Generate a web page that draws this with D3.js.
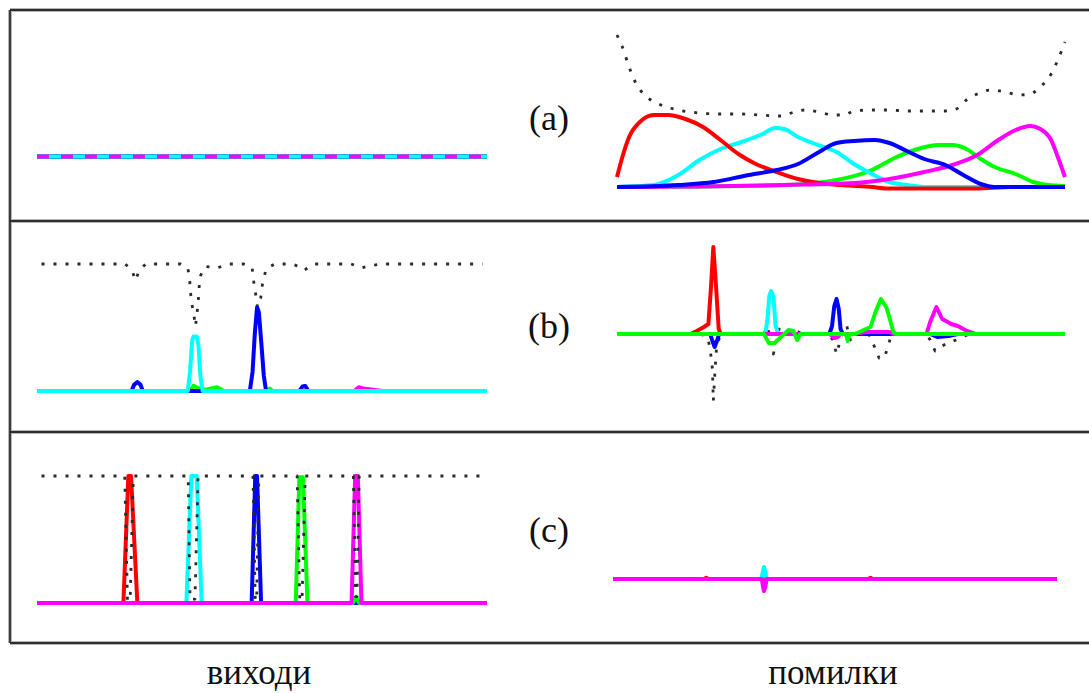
<!DOCTYPE html>
<html>
<head>
<meta charset="utf-8">
<script src="https://cdn.jsdelivr.net/npm/d3@7"></script>
<style>
  html, body { margin: 0; padding: 0; background: #fff; }
  svg { display: block; }
</style>
</head>
<body>
<svg id="chart" width="1089" height="693"></svg>
<script>
// ---------------------------------------------------------------
// Series are given as [sample position (0..100), value] pairs.
// Left column: network outputs (0..1). Right column: errors.
// ---------------------------------------------------------------

// (a) outputs – all units respond equally
const outA_red     = [[0, 0.2], [100, 0.2]];
const outA_green   = [[0, 0.2], [100, 0.2]];
const outA_blue    = [[0, 0.2], [100, 0.2]];
const outA_cyan    = [[0, 0.2], [100, 0.2]];
const outA_magenta = [[0, 0.2], [100, 0.2]];

// (a) errors
const errA_total = [[0,1.52],[1.2,1.40],[2.7,1.20],[4.3,1.03],[6.7,0.90],[9.8,0.82],[13.7,0.77],[18.4,0.74],[23.1,0.73],[27.8,0.73],[31.8,0.72],[36.5,0.71],[39.6,0.75],[42,0.77],[45.1,0.75],[48.2,0.72],[50.6,0.72],[52.9,0.76],[56.9,0.77],[60.8,0.77],[64.7,0.76],[68.6,0.76],[73.3,0.76],[75.7,0.78],[78,0.87],[80.4,0.93],[83.5,0.97],[86.7,0.95],[89.8,0.92],[92.2,0.93],[94.5,1.00],[96.9,1.13],[98.4,1.27],[100,1.45]];
const errA_red     = [[0,0.10],[1.2,0.30],[2.7,0.50],[5.1,0.65],[8.2,0.72],[11.4,0.72],[15.3,0.68],[19.2,0.60],[23.1,0.47],[27.1,0.33],[31,0.23],[35.7,0.15],[40.4,0.08],[45.1,0.04],[49.8,0.02],[56.9,0],[60.8,-0.015],[80,-0.015],[88,0],[100,0]];
const errA_cyan    = [[0,0],[8.2,0.02],[13.7,0.12],[18.4,0.27],[23.1,0.38],[27.8,0.45],[32.5,0.53],[35.3,0.59],[37.3,0.58],[40.4,0.50],[44.3,0.43],[49,0.35],[52.9,0.23],[56.9,0.13],[60.8,0.05],[64.7,0.02],[68.6,0],[100,0]];
const errA_blue    = [[0,0],[13.7,0.02],[21.6,0.05],[29.4,0.12],[35.7,0.17],[40.4,0.23],[45.1,0.35],[49,0.44],[52.9,0.46],[57.6,0.47],[60.8,0.44],[64.7,0.36],[68.6,0.28],[73.3,0.22],[77.3,0.12],[81.2,0.03],[84.3,0],[100,0]];
const errA_green   = [[0,0],[37.3,0.02],[49,0.07],[56.9,0.17],[62.4,0.30],[67.1,0.38],[71.8,0.42],[74.9,0.42],[78,0.38],[81.2,0.28],[84.3,0.20],[89,0.13],[92.9,0.05],[96.1,0.02],[100,0.01]];
const errA_magenta = [[0,0],[37.3,0.02],[52.9,0.04],[60.8,0.08],[68.6,0.15],[74.9,0.22],[80.4,0.32],[85.1,0.47],[89,0.57],[92.2,0.61],[94.5,0.58],[96.9,0.47],[98.4,0.30],[100,0.10]];

// (b) outputs
const outB_total   = [[1,1],[19.6,1],[21.1,0.95],[21.9,0.87],[22.7,0.95],[24.2,1],[31.9,1],[33.5,0.97],[33.9,0.89],[34.1,0.78],[34.4,0.69],[34.9,0.59],[35.2,0.51],[35.4,0.56],[35.8,0.69],[36.0,0.80],[36.2,0.90],[37.4,0.98],[40.1,0.97],[42.8,1],[45.9,1],[47.8,0.97],[48.2,0.85],[48.6,0.76],[49,0.66],[49.7,0.73],[50.1,0.84],[50.9,0.96],[52.8,1],[56.7,1],[58.2,0.98],[59.4,0.95],[60.6,0.98],[61.7,1],[69.8,1],[72.2,0.97],[74.5,0.99],[76.8,1],[99,1]];
const outB_red     = [[0,0],[100,0]];
const outB_magenta = [[0,0],[70.5,0],[71.5,0.03],[72.5,0.02],[76.8,0],[100,0]];
const outB_green   = [[0,0],[34,0],[34.8,0.04],[36,0.02],[37.5,0.01],[40,0.03],[41.5,0],[51,0],[51.7,0.02],[52.4,0],[100,0]];
const outB_blue    = [[0,0],[21,0],[21.6,0.05],[22.3,0.07],[23,0.05],[23.5,0],[47.3,0],[47.9,0.15],[48.4,0.45],[48.9,0.66],[49.3,0.62],[49.8,0.40],[50.4,0.12],[50.9,0],[58.3,0],[59,0.035],[59.6,0.04],[60.3,0],[100,0]];
const outB_cyan    = [[0,0],[33.5,0],[34.0,0.15],[34.5,0.40],[34.8,0.43],[35.5,0.43],[35.9,0.35],[36.3,0.12],[36.8,0],[100,0]];

// (b) errors
const errB_total   = [[0,0],[18.6,0],[20.2,-0.03],[20.8,-0.15],[21.3,-0.35],[21.5,-0.67],[21.9,-0.35],[22.2,-0.15],[22.9,-0.03],[24.1,0],[32.7,0],[33.3,0.07],[33.9,0.02],[34.4,-0.12],[34.9,-0.20],[35.4,-0.10],[36.2,0.05],[37.4,0],[38.6,0.04],[40.1,0.03],[41.3,0],[47.2,0],[48.2,-0.06],[49.0,-0.20],[49.8,-0.07],[50.7,0.05],[51.3,0.08],[51.7,0],[52.1,-0.06],[52.7,0],[56.2,0],[57.4,-0.12],[58.5,-0.24],[59.7,-0.24],[60.5,-0.12],[61.3,0],[69.1,0],[69.9,-0.06],[71.0,-0.17],[72.2,-0.13],[73.8,-0.09],[75.7,-0.06],[77.6,-0.02],[78.8,0],[100,0]];
const errB_red     = [[0,0],[16.4,0],[17.8,0.03],[19.4,0.07],[20.4,0.10],[21.0,0.48],[21.5,0.87],[22.1,0.48],[22.7,0.05],[23.2,0],[100,0]];
const errB_cyan    = [[0,0],[33.1,0],[33.6,0.15],[34.0,0.38],[34.4,0.43],[34.9,0.38],[35.4,0.08],[36.0,0],[100,0]];
const errB_blue    = [[0,0],[20.8,0],[21.3,-0.07],[21.8,-0.13],[22.3,-0.07],[22.8,0],[47.4,0],[48.0,0.08],[48.5,0.28],[49.0,0.35],[49.5,0.25],[49.9,0.05],[50.4,0],[69.9,0],[71.5,-0.03],[74,-0.02],[76.1,0],[100,0]];
const errB_magenta = [[0,0],[47.5,0],[48.5,-0.04],[49.3,-0.03],[49.9,0],[53.1,0],[55.4,0.02],[60.9,0.02],[61.7,0],[69.1,0],[69.9,0.12],[71.3,0.27],[72.6,0.15],[74.6,0.10],[76.1,0.08],[78.1,0.03],[80.0,0],[100,0]];
const errB_green   = [[0,0],[32.8,0],[33.9,-0.09],[35.2,-0.09],[36.6,-0.03],[38.3,0.04],[39.4,0.03],[40.2,-0.06],[41.0,0],[51.1,0],[51.5,-0.07],[51.9,0],[53.1,0],[54.6,0.03],[56.6,0.07],[57.7,0.22],[58.9,0.35],[60.1,0.27],[60.9,0.15],[61.7,0.02],[62.3,0],[100,0]];

// (c) outputs
const outC_total   = [[1,1],[19.5,1],[20.1,0.02],[20.7,0.02],[21.4,1],[33.6,1],[34.0,0.03],[35.1,0.03],[35.8,1],[48.0,1],[48.5,0.02],[48.8,0.02],[49.3,1],[57.8,1],[58.4,0.02],[58.9,0.02],[59.6,1],[70.3,1],[70.8,0.05],[71.1,0.05],[71.6,1],[99,1]];
const outC_red     = [[0,0],[19.2,0],[20.3,1.0],[20.9,1.0],[22.3,0],[100,0]];
const outC_cyan    = [[0,0],[33.2,0],[34.3,1.0],[35.5,1.0],[36.6,0],[100,0]];
const outC_blue    = [[0,0],[47.7,0],[48.5,1.0],[48.9,1.0],[49.8,0],[100,0]];
const outC_green   = [[0,0],[57.5,0],[58.3,0.99],[59.1,0.99],[60.1,0],[70.2,0],[70.9,0.05],[71.6,0],[100,0]];
const outC_magenta = [[0,0],[69.9,0],[70.7,1.0],[71.3,1.0],[72.1,0],[100,0]];

// (c) errors
const errC_red     = [[0,0],[20.5,0],[21,0.012],[21.5,0],[57.5,0],[58,0.012],[58.5,0],[100,0]];
const errC_cyan    = [[0,0],[33.4,0],[33.8,0.08],[34.0,0.12],[34.3,0.08],[34.6,0],[100,0]];
const errC_magenta = [[0,0],[33.5,0],[33.8,-0.08],[34.0,-0.12],[34.3,-0.08],[34.6,0],[100,0]];

const rowLabels    = ["(a)", "(b)", "(c)"];
const columnTitles = ["виходи", "помилки"];

// ---------------------------------------------------------------
const colors = {
  red: "#ff0000", green: "#00ff00", blue: "#0000ff",
  cyan: "#00ffff", magenta: "#ff00ff", total: "#2a2a2a"
};

const svg = d3.select("#chart");

// column x scales
const xLeft   = d3.scaleLinear().domain([0, 100]).range([37, 487]);
const xRight  = d3.scaleLinear().domain([0, 100]).range([617, 1065]);
const xRightC = d3.scaleLinear().domain([0, 100]).range([613, 1057]);

// panel y scales (outputs: 1.0 spans 127px, errors: 1.0 spans 100px)
const yOutA = d3.scaleLinear().domain([0, 1]).range([182, 55]);
const yOutB = d3.scaleLinear().domain([0, 1]).range([391, 264]);
const yOutC = d3.scaleLinear().domain([0, 1]).range([603, 476]);
const yErrA = d3.scaleLinear().domain([0, 1]).range([187, 87]);
const yErrB = d3.scaleLinear().domain([0, 1]).range([334, 234]);
const yErrC = d3.scaleLinear().domain([0, 1]).range([579, 479]);

const panels = [
  { x: xLeft, y: yOutA, curve: d3.curveLinear, series: [
      ["red", outA_red], ["green", outA_green], ["blue", outA_blue],
      ["cyan", outA_cyan], ["magenta", outA_magenta, "12,12"] ] },
  { x: xRight, y: yErrA, curve: d3.curveMonotoneX, series: [
      ["total", errA_total], ["green", errA_green], ["cyan", errA_cyan],
      ["red", errA_red], ["magenta", errA_magenta], ["blue", errA_blue] ] },
  { x: xLeft, y: yOutB, curve: d3.curveLinear, series: [
      ["total", outB_total], ["red", outB_red], ["magenta", outB_magenta],
      ["green", outB_green], ["blue", outB_blue], ["cyan", outB_cyan] ] },
  { x: xRight, y: yErrB, curve: d3.curveLinear, series: [
      ["total", errB_total], ["red", errB_red], ["cyan", errB_cyan],
      ["blue", errB_blue], ["magenta", errB_magenta], ["green", errB_green] ] },
  { x: xLeft, y: yOutC, curve: d3.curveLinear, series: [
      ["red", outC_red], ["cyan", outC_cyan], ["blue", outC_blue],
      ["green", outC_green], ["magenta", outC_magenta], ["total", outC_total] ] },
  { x: xRightC, y: yErrC, curve: d3.curveLinear, series: [
      ["red", errC_red], ["cyan", errC_cyan], ["magenta", errC_magenta] ] }
];

const plot = svg.append("g").attr("class", "plots");

panels.forEach(p => {
  const line = d3.line()
    .x(d => p.x(d[0]))
    .y(d => p.y(d[1]))
    .curve(p.curve);
  const g = plot.append("g");
  p.series.forEach(([key, data, dash]) => {
    const isTotal = key === "total";
    g.append("path")
      .datum(data)
      .attr("d", line)
      .attr("fill", "none")
      .attr("stroke", colors[key])
      .attr("stroke-width", isTotal ? 2.8 : 4)
      .attr("stroke-linejoin", "round")
      .attr("stroke-dasharray", isTotal ? "3,9" : (dash || null));
  });
});

// frame: outer box (open to the right) and row separators
const frame = svg.append("g").attr("class", "frame");
const frameLines = [
  [[10, 10], [1089, 10]],
  [[10, 221], [1089, 221]],
  [[10, 432], [1089, 432]],
  [[10, 643], [1089, 643]],
  [[10, 10], [10, 643]]
];
frameLines.forEach(([a, b]) => {
  frame.append("line").attr("x1", a[0]).attr("y1", a[1]).attr("x2", b[0]).attr("y2", b[1])
    .attr("stroke", "#b5b5b5").attr("stroke-width", 4);
});
frameLines.forEach(([a, b]) => {
  frame.append("line").attr("x1", a[0]).attr("y1", a[1]).attr("x2", b[0]).attr("y2", b[1])
    .attr("stroke", "#2e2e2e").attr("stroke-width", 1.8);
});

// row labels
const labelY = [130, 338, 542];
svg.append("g").selectAll("text")
  .data(rowLabels)
  .join("text")
  .attr("x", 549)
  .attr("y", (d, i) => labelY[i])
  .attr("text-anchor", "middle")
  .attr("font-family", "'Liberation Serif', 'Times New Roman', serif")
  .attr("font-size", 36)
  .attr("fill", "#111")
  .text(d => d);

// column titles
const titleX = [259, 833];
svg.append("g").selectAll("text")
  .data(columnTitles)
  .join("text")
  .attr("x", (d, i) => titleX[i])
  .attr("y", 684)
  .attr("text-anchor", "middle")
  .attr("font-family", "'Liberation Serif', 'Times New Roman', serif")
  .attr("font-size", 35)
  .attr("fill", "#111")
  .text(d => d);
</script>
</body>
</html>
